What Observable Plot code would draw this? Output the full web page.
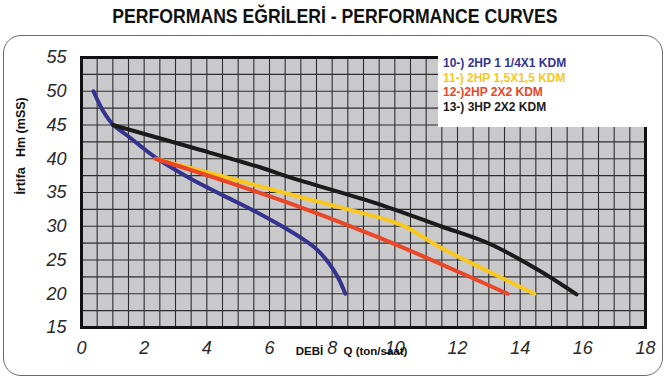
<!DOCTYPE html>
<html>
<head>
<meta charset="utf-8">
<script src="https://cdn.jsdelivr.net/npm/d3@7"></script>
<script src="https://cdn.jsdelivr.net/npm/@observablehq/plot@0.6"></script>
<style>
  html, body { margin: 0; padding: 0; background: #fff; }
  #wrap { position: relative; width: 669px; height: 381px; overflow: hidden; font-family: "Liberation Sans", Arial, sans-serif; }
  #title { position: absolute; top: 6px; left: 0; width: 669px; text-align: center; font-size: 20.5px; line-height: 20px; font-weight: bold; color: #111; }
  #title span { display: inline-block; transform: scaleX(0.86); white-space: nowrap; }
  #outer { position: absolute; left: 3px; top: 35px; width: 660px; height: 341px; border: 1.5px solid #6a6a6a; border-radius: 18px; box-sizing: border-box; }
  #chart { position: absolute; left: 0; top: 38px; }
  #legend { position: absolute; left: 438px; top: 55px; width: 209px; height: 72px; background: #fff; padding: 1px 0 0 5px; box-sizing: border-box; font-size: 12px; line-height: 14.5px; font-weight: bold; white-space: nowrap; }
</style>
</head>
<body>
<div id="wrap">
  <div id="title"><span></span></div>
  <div id="outer"></div>
  <div id="chart"></div>
  <div id="legend"></div>
</div>
<script>
const titleText = "PERFORMANS EĞRİLERİ - PERFORMANCE CURVES";
const seriesNames = ["10-) 2HP 1 1/4X1 KDM", "11-) 2HP 1,5X1,5 KDM", "12-)2HP 2X2 KDM", "13-) 3HP 2X2 KDM"];
const seriesColors = ["#34348f", "#f8c81f", "#ea4628", "#1b1b1b"];

// 10-) 2HP 1 1/4X1 KDM
const q10 = [0.38, 0.7, 1.0, 1.5, 2.36, 3.5, 4.55, 5.5, 6.4, 7.0, 7.5, 7.9, 8.2, 8.42];
const h10 = [50.0, 47.0, 45.1, 43.3, 40.2, 37.0, 34.5, 32.3, 30.0, 28.3, 26.6, 24.5, 22.3, 20.0];
// 11-) 2HP 1,5X1,5 KDM
const q11 = [2.36, 4.5, 6.68, 8.5, 9.87, 10.4, 10.94, 11.47, 13.0, 14.45];
const h11 = [40.0, 37.4, 34.7, 32.5, 30.8, 29.8, 28.3, 26.8, 23.3, 20.0];
// 12-)2HP 2X2 KDM
const q12 = [2.36, 4.7, 7.0, 9.5, 11.47, 13.6];
const h12 = [40.0, 36.5, 32.8, 28.3, 24.4, 20.0];
// 13-) 3HP 2X2 KDM
const q13 = [1.0, 3.5, 5.72, 6.68, 9.34, 11.47, 13.07, 14.66, 15.8];
const h13 = [45.0, 41.7, 38.7, 37.2, 33.5, 30.0, 27.3, 23.3, 19.9];

const xTicks = [0, 2, 4, 6, 8, 10, 12, 14, 16, 18];
const yTicks = [15, 20, 25, 30, 35, 40, 45, 50, 55];
const xGrid = d3.range(0, 18.01, 0.5);
const yGrid = d3.range(15, 55.01, 2.5);
const xLabelA = "DEBİ";
const xLabelB = "Q (ton/saat)";
const yLabel = "İrtifa\u00a0\u00a0\u00a0Hm (mSS)";

const toRows = (q, h, name) => q.map((v, i) => ({q: v, h: h[i], name}));
const series = [
  toRows(q10, h10, seriesNames[0]),
  toRows(q11, h11, seriesNames[1]),
  toRows(q12, h12, seriesNames[2]),
  toRows(q13, h13, seriesNames[3])
];

document.querySelector("#title span").textContent = titleText;
const legend = document.getElementById("legend");
seriesNames.forEach((n, i) => {
  const d = document.createElement("div");
  d.textContent = n;
  d.style.color = seriesColors[i];
  legend.appendChild(d);
});

const font = "'Liberation Sans', Arial, sans-serif";
const chart = Plot.plot({
  width: 669,
  height: 343,
  marginTop: 19,
  marginBottom: 54,
  marginLeft: 81,
  marginRight: 24,
  style: {fontFamily: font, background: "transparent", overflow: "visible"},
  x: {domain: [0, 18]},
  y: {domain: [15, 55]},
  marks: [
    Plot.frame({fill: "#c9c9cc", stroke: null}),
    Plot.gridX(xGrid, {stroke: "#2e2e2e", strokeOpacity: 1, strokeWidth: 1.1}),
    Plot.gridY(yGrid, {stroke: "#2e2e2e", strokeOpacity: 1, strokeWidth: 1.1}),
    Plot.frame({stroke: "#111", strokeWidth: 3}),
    Plot.line(series[0], {x: "q", y: "h", stroke: seriesColors[0], strokeWidth: 4, curve: "catmull-rom"}),
    Plot.line(series[1], {x: "q", y: "h", stroke: seriesColors[1], strokeWidth: 4, curve: "catmull-rom"}),
    Plot.line(series[2], {x: "q", y: "h", stroke: seriesColors[2], strokeWidth: 4, curve: "catmull-rom"}),
    Plot.line(series[3], {x: "q", y: "h", stroke: seriesColors[3], strokeWidth: 4, curve: "catmull-rom"}),
    Plot.axisX(xTicks, {tickSize: 0, tickPadding: 14, fontSize: 18, fontStyle: "italic", fill: "#2a2a2a", label: null}),
    Plot.axisY(yTicks, {tickSize: 0, tickPadding: 15, fontSize: 18, fontStyle: "italic", fill: "#2a2a2a", label: null}),
    Plot.text([xLabelA], {frameAnchor: "bottom", dx: -54, dy: 27, fontSize: 11.5, fontWeight: "bold", fill: "#111"}),
    Plot.text([xLabelB], {frameAnchor: "bottom", dx: -20, dy: 27, fontSize: 11.5, fontWeight: "bold", fill: "#111", textAnchor: "start"}),
    Plot.text([yLabel], {frameAnchor: "left", dx: -61, dy: 2, rotate: -90, fontSize: 12.5, fontWeight: "bold", fill: "#111"})
  ]
});
document.getElementById("chart").appendChild(chart);
</script>
</body>
</html>
